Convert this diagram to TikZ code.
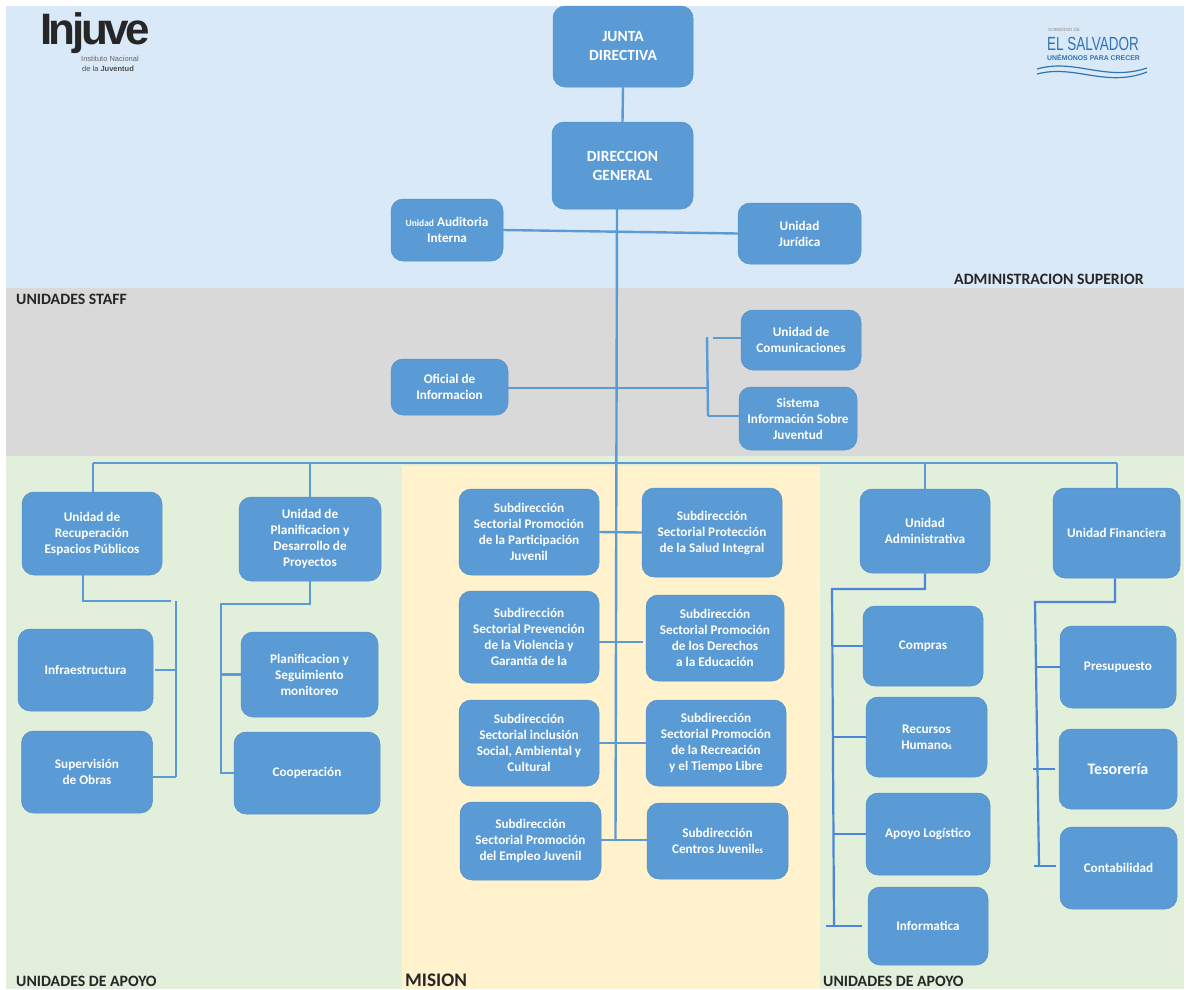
\documentclass[tikz,border=0pt]{standalone}
\usepackage{fontspec}
\setmainfont{Carlito}
\newfontfamily\logofont[LetterSpace=-8]{Liberation Sans}
\newfontfamily\tagfont{Liberation Sans}

\definecolor{topband}{HTML}{DAE9F7}
\definecolor{staffband}{HTML}{D9D9D9}
\definecolor{supportband}{HTML}{E2EFDA}
\definecolor{missionband}{HTML}{FFF2CC}
\definecolor{boxblue}{HTML}{5B9BD5}
\definecolor{linkdark}{HTML}{4C86D6}
\definecolor{logoblue}{HTML}{2E75B6}

\tikzset{
  unitbox/.style={draw=boxblue!92!black,line width=.5pt,fill=boxblue,rounded corners=12pt,inner sep=0pt,
    align=center,text=white,font=\fontsize{13.2}{16}\selectfont\bfseries},
  headbox/.style={unitbox,font=\fontsize{15.5}{19}\selectfont\bfseries},
  link/.style={boxblue,line width=2.4pt},
  darklink/.style={linkdark,line width=2.2pt},
  bandlabel/.style={anchor=west,inner sep=0pt,text=black!85,font=\fontsize{15.8}{16}\selectfont\bfseries}
}

\begin{document}
\begin{tikzpicture}[x=1pt,y=-1pt]
\useasboundingbox (0,0) rectangle (1186,989);

% Draw the bands
\fill[topband] (6,6) rectangle (1184,288);
\fill[staffband] (6,288) rectangle (1184,456);
\fill[supportband] (6,456) rectangle (1184,989);
\fill[missionband] (402,466) rectangle (820,989);

% Draw the logos
\node[anchor=west,inner sep=0pt,text=black!85,font=\logofont\fontsize{44}{46}\selectfont\bfseries] (injuve) at (40,33) {Injuve};
\node[anchor=west,inner sep=0pt,text=black!60,font=\tagfont\fontsize{7.5}{8}\selectfont] (injuvetagone) at (81,59) {Instituto Nacional};
\node[anchor=west,inner sep=0pt,text=black!70,font=\tagfont\fontsize{7.5}{8}\selectfont] (injuvetagtwo) at (82,69) {de la \textbf{Juventud}};
\node[anchor=west,inner sep=0pt,text=black!45,font=\tagfont\fontsize{4.5}{5}\selectfont] (govtag) at (1048,30) {GOBIERNO DE};
\node[anchor=west,inner sep=0pt,text=logoblue,font=\tagfont\fontsize{19}{20}\selectfont] (salvador) at (1047,44) {\scalebox{.71}[1]{EL SALVADOR}};
\node[anchor=west,inner sep=0pt,text=logoblue,font=\tagfont\fontsize{6.9}{7}\selectfont\bfseries] (govmotto) at (1047,57) {UNÉMONOS PARA CRECER};
\draw[logoblue,line width=1.2pt] (1037,69) .. controls (1075,58) and (1105,82) .. (1147,68);
\draw[logoblue,line width=1.2pt] (1037,74) .. controls (1075,64) and (1105,88) .. (1147,72);

% Draw the band labels
\node[bandlabel] (stafflabel) at (16,299) {UNIDADES STAFF};
\node[bandlabel] (toplabel) at (954,279) {ADMINISTRACION SUPERIOR};
\node[bandlabel] (leftlabel) at (16,981) {UNIDADES DE APOYO};
\node[bandlabel,font=\fontsize{19.2}{20}\selectfont\bfseries] (missionlabel) at (405,980) {MISION};
\node[bandlabel] (rightlabel) at (823,981) {UNIDADES DE APOYO};

% Draw the top boxes
\node[headbox,minimum width=140pt,minimum height=81pt] (junta) at (623,46.5) {JUNTA\\DIRECTIVA};
\node[headbox,minimum width=141pt,minimum height=87pt] (direccion) at (622.5,165.5) {DIRECCION\\GENERAL};
\node[unitbox,minimum width=112pt,minimum height=62pt] (auditoria) at (447,230) {{\fontsize{9.5}{16}\selectfont Unidad} Auditoria\\Interna};
\node[unitbox,minimum width=123pt,minimum height=61pt] (juridica) at (799.5,233.5) {Unidad\\Jurídica};

% Draw the staff boxes
\node[unitbox,minimum width=117pt,minimum height=56pt] (oficial) at (449.5,387) {Oficial de\\Informacion};
\node[unitbox,minimum width=120pt,minimum height=60pt] (comunicaciones) at (801,340) {Unidad de\\Comunicaciones};
\node[unitbox,minimum width=118pt,minimum height=63pt] (sistema) at (798,418.5) {Sistema\\Información Sobre\\Juventud};

% Draw the left support boxes
\node[unitbox,minimum width=140pt,minimum height=83pt] (recuperacion) at (92,533.5) {Unidad de\\Recuperación\\Espacios Públicos};
\node[unitbox,minimum width=142pt,minimum height=84pt] (planificacion) at (310,539) {Unidad de\\Planificacion y\\Desarrollo de\\Proyectos};
\node[unitbox,minimum width=135pt,minimum height=82pt] (infra) at (85.5,670) {Infraestructura};
\node[unitbox,minimum width=131pt,minimum height=82pt] (supervision) at (87,772) {Supervisión\\de Obras};
\node[unitbox,minimum width=137pt,minimum height=85pt] (seguimiento) at (309.5,674.5) {Planificacion y\\Seguimiento\\monitoreo};
\node[unitbox,minimum width=146pt,minimum height=82pt] (cooperacion) at (307,773) {Cooperación};

% Draw the mission boxes
\node[unitbox,minimum width=140pt,minimum height=86pt] (participacion) at (529,532) {Subdirección\\Sectorial Promoción\\de la Participación\\Juvenil};
\node[unitbox,minimum width=140pt,minimum height=89pt] (salud) at (712,532.5) {Subdirección\\Sectorial Protección\\de la Salud Integral};
\node[unitbox,minimum width=140pt,minimum height=92pt] (violencia) at (529,637) {Subdirección\\Sectorial Prevención\\de la Violencia y\\Garantía de la};
\node[unitbox,minimum width=138pt,minimum height=86pt] (derechos) at (715,638) {Subdirección\\Sectorial Promoción\\de los Derechos\\a la Educación};
\node[unitbox,minimum width=140pt,minimum height=86pt] (inclusion) at (529,743) {Subdirección\\Sectorial inclusión\\Social, Ambiental y\\Cultural};
\node[unitbox,minimum width=140pt,minimum height=86pt] (recreacion) at (716,743) {Subdirección\\Sectorial Promoción\\de la Recreación\\y el Tiempo Libre};
\node[unitbox,minimum width=141pt,minimum height=78pt] (empleo) at (530.5,841) {Subdirección\\Sectorial Promoción\\del Empleo Juvenil};
\node[unitbox,minimum width=141pt,minimum height=76pt] (centros) at (717.5,841) {Subdirección\\Centros Juvenil{\fontsize{9}{16}\selectfont es}};

% Draw the right support boxes
\node[unitbox,minimum width=130pt,minimum height=84pt] (administrativa) at (925,531) {Unidad\\Administrativa};
\node[unitbox,minimum width=127pt,minimum height=90pt] (financiera) at (1116.5,533) {Unidad Financiera};
\node[unitbox,minimum width=120pt,minimum height=80pt] (compras) at (923,646) {Compras};
\node[unitbox,minimum width=121pt,minimum height=80pt] (recursos) at (926.5,737) {Recursos\\Humano{\fontsize{9}{16}\selectfont s}};
\node[unitbox,minimum width=124pt,minimum height=82pt] (logistico) at (928,834) {Apoyo Logístico};
\node[unitbox,minimum width=120pt,minimum height=78pt] (informatica) at (928,926) {Informatica};
\node[unitbox,minimum width=116pt,minimum height=82pt] (presupuesto) at (1118,667) {Presupuesto};
\node[unitbox,minimum width=118pt,minimum height=80pt,font=\fontsize{16}{16}\selectfont\bfseries] (tesoreria) at (1118,769) {Tesorería};
\node[unitbox,minimum width=117pt,minimum height=82pt] (contabilidad) at (1118.5,868) {Contabilidad};

% Points on the trunk and the bus
\coordinate (trunktop) at (617,209);
\coordinate (trunkend) at (615.5,840);
\coordinate (busleft) at (93,463);
\coordinate (busright) at (1117,463);
\coordinate (staffjoin) at (707.5,388);
\coordinate (staffup) at (707,337);
\coordinate (staffdown) at (708,416);
\coordinate (comstub) at (713,338);
\coordinate (violjoin) at (617,642);

% Draw the edges of the upper part
\draw[link] (junta.south) -- (direccion.north);
\draw[link] (trunktop) -- (trunkend);
\draw[link] (auditoria.east) -- (juridica.west);
\draw[link] (oficial.east |- staffjoin) -- (staffjoin);
\draw[link] (staffup) -- (staffdown);
\draw[link] (staffdown) -- (sistema.west |- staffdown);
\draw[link] (comstub) -- (comunicaciones.west |- comstub);

% Draw the bus
\draw[link] (busleft) -- (busright);
\draw[link] (busleft) -- (recuperacion.north -| busleft);
\draw[link] (planificacion.north |- busleft) -- (planificacion.north);
\draw[link] (administrativa.north |- busleft) -- (administrativa.north);
\draw[link] (busright) -- (financiera.north -| busright);

% Draw the edges of the mission
\draw[link] (participacion.east) -- (salud.west);
\draw[link] (violencia.east |- violjoin) -- ([xshift=-3pt]derechos.west |- violjoin);
\draw[link] (inclusion.east) -- (recreacion.west);
\draw[link] (empleo.east |- trunkend) -- (centros.west |- trunkend);

% Draw the left branches
\coordinate (recdrop) at (83,601);
\coordinate (recstub) at (171,601);
\coordinate (rectop) at (176,601);
\coordinate (recend) at (176,777);
\draw[link] (recuperacion.south -| recdrop) -- (recdrop) -- (recstub);
\draw[link] (rectop) -- (recend);
\draw[link] ([xshift=2pt]infra.east) -- (infra.east -| rectop);
\draw[link] (supervision.east |- recend) -- (recend);

\coordinate (plandrop) at (310,604);
\coordinate (planbar) at (221,604);
\coordinate (planend) at (221,773);
\draw[link] (planificacion.south) -- (plandrop) -- (planbar) -- (planend) -- (cooperacion.west);
\draw[link] (seguimiento.west) -- (seguimiento.west -| planbar);

% Draw the right branches
\coordinate (admdrop) at (925,589);
\coordinate (admbar) at (832,589);
\coordinate (admend) at (834,926);
\coordinate (admtick) at (826,926);
\coordinate (admstub) at (862,926);
\draw[darklink] (administrativa.south) -- (admdrop) -- (admbar) -- (admend);
\draw[darklink] (admtick) -- (admstub);
\draw[darklink] (compras.west) -- (compras.west -| admbar);
\draw[darklink] (recursos.west) -- (recursos.west -| admend);
\draw[darklink] (logistico.west) -- (logistico.west -| admend);

\coordinate (findrop) at (1115,602);
\coordinate (finbar) at (1035,602);
\coordinate (finend) at (1039,866);
\coordinate (tesotick) at (1033,769);
\coordinate (tesostub) at (1055,769);
\coordinate (contick) at (1034,866);
\coordinate (constub) at (1056,866);
\draw[darklink] (financiera.south -| findrop) -- (findrop) -- (finbar) -- (finend);
\draw[darklink] (presupuesto.west) -- (presupuesto.west -| finbar);
\draw[darklink] (tesotick) -- (tesostub);
\draw[darklink] (contick) -- (constub);

\end{tikzpicture}
\end{document}
